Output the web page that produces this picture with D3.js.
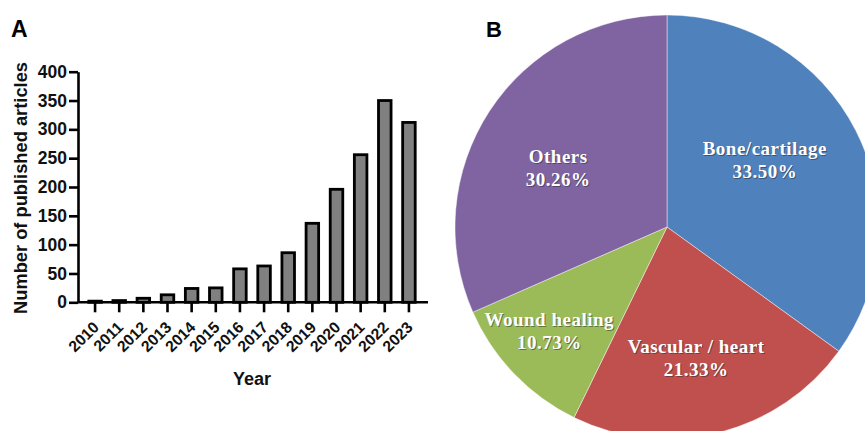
<!DOCTYPE html>
<html>
<head>
<meta charset="utf-8">
<script src="https://cdn.jsdelivr.net/npm/d3@7"></script>
<style>
  html, body { margin: 0; padding: 0; background: #fff; }
  svg { display: block; }
</style>
</head>
<body>
<svg id="chart" width="865" height="431"></svg>
<script>
// ---- Data ----
const years = ["2010","2011","2012","2013","2014","2015","2016","2017","2018","2019","2020","2021","2022","2023"];
const articleCounts = [2, 3, 7, 13, 24, 25, 58, 63, 86, 137, 196, 256, 350, 312];
const yTickValues = [0, 50, 100, 150, 200, 250, 300, 350, 400];

const fieldNames = ["Bone/cartilage", "Vascular / heart", "Wound healing", "Others"];
const fieldShares = [33.50, 21.33, 10.73, 30.26];
const fieldColors = ["#4f81bd", "#c0504d", "#9bbb59", "#8064a2"];

// ---- Setup ----
const svg = d3.select("#chart");
const sans = "'Liberation Sans', Arial, Helvetica, sans-serif";
const serif = "'Liberation Serif', 'Times New Roman', serif";

// ===== Panel A: bar chart =====
const axisX0 = 78, axisX1 = 428;
const y = d3.scaleLinear().domain([0, 400]).range([302.3, 71.7]);
const x = d3.scaleBand().domain(years).range([83, 421]).paddingInner(0.48).paddingOuter(0.24);

const gA = svg.append("g");

// bars
gA.selectAll("rect.bar")
  .data(articleCounts)
  .enter().append("rect")
  .attr("class", "bar")
  .attr("x", (d, i) => x(years[i]))
  .attr("width", x.bandwidth())
  .attr("y", d => y(d))
  .attr("height", d => y(0) - y(d))
  .attr("fill", "#808080")
  .attr("stroke", "#000")
  .attr("stroke-width", 2.8);

// y axis
const yAxis = d3.axisLeft(y).tickValues(yTickValues).tickSize(9).tickSizeOuter(0).tickPadding(2);
const gy = gA.append("g").attr("transform", `translate(${axisX0},0)`).call(yAxis);
gy.select(".domain").attr("stroke", "#000").attr("stroke-width", 2.6);
gy.selectAll(".tick line").attr("stroke", "#000").attr("stroke-width", 2.6);
gy.selectAll(".tick text")
  .attr("font-family", sans).attr("font-weight", "bold").attr("font-size", 17.5)
  .attr("fill", "#111");

// x axis
const xAxis = d3.axisBottom(x).tickSize(10).tickSizeOuter(0);
const gx = gA.append("g").attr("transform", `translate(0,${y(0)})`).call(xAxis);
gx.select(".domain").remove();
gA.append("line")
  .attr("x1", axisX0).attr("x2", axisX1)
  .attr("y1", y(0)).attr("y2", y(0))
  .attr("stroke", "#000").attr("stroke-width", 2.6);
gx.selectAll(".tick line").attr("stroke", "#000").attr("stroke-width", 2.6);
gx.selectAll(".tick text")
  .attr("font-family", sans).attr("font-weight", "bold").attr("font-size", 15.8)
  .attr("fill", "#111")
  .attr("text-anchor", "end")
  .attr("dy", "0.35em")
  .attr("y", 0)
  .attr("transform", "translate(1,22) rotate(-45)");

// axis titles
gA.append("text")
  .attr("transform", "translate(27,188) rotate(-90)")
  .attr("text-anchor", "middle")
  .attr("font-family", sans).attr("font-weight", "bold").attr("font-size", 18.3)
  .attr("fill", "#111")
  .text("Number of published articles");

gA.append("text")
  .attr("x", 252).attr("y", 385)
  .attr("text-anchor", "middle")
  .attr("font-family", sans).attr("font-weight", "bold").attr("font-size", 18)
  .attr("fill", "#111")
  .text("Year");

// panel letter
gA.append("text")
  .attr("x", 11).attr("y", 37)
  .attr("font-family", sans).attr("font-weight", "bold").attr("font-size", 23)
  .attr("fill", "#000")
  .text("A");

// ===== Panel B: pie chart =====
const cx = 667, cy = 227, R = 212;
const gB = svg.append("g").attr("transform", `translate(${cx},${cy})`);

const pie = d3.pie().sort(null).startAngle(0).endAngle(2 * Math.PI);
const arcs = pie(fieldShares);
const arc = d3.arc().innerRadius(0).outerRadius(R);
const labelArc = d3.arc().innerRadius(130).outerRadius(130);

gB.selectAll("path.slice")
  .data(arcs)
  .enter().append("path")
  .attr("class", "slice")
  .attr("d", arc)
  .attr("fill", (d, i) => fieldColors[i])
  .attr("stroke", "rgba(255,255,255,0.55)")
  .attr("stroke-width", 0.8);

// label nudges (layout only)
const nudges = [[-18, -10], [-2.5, 2.6], [-24, 12], [0, 10]];

arcs.forEach((a, i) => {
  const c = labelArc.centroid(a);
  const lx = c[0] + nudges[i][0];
  const ly = c[1] + nudges[i][1];
  const lines = [fieldNames[i], fieldShares[i].toFixed(2) + "%"];
  const offsets = [-3, 20];
  [["#2a2a2a", 1, 1, 0.5], ["#ffffff", 0, 0, 1]].forEach(([col, ox, oy, op]) => {
    lines.forEach((t, k) => {
      gB.append("text")
        .attr("x", lx + ox).attr("y", ly + offsets[k] + oy)
        .attr("text-anchor", "middle")
        .attr("font-family", serif).attr("font-weight", "bold").attr("font-size", 19)
        .attr("letter-spacing", 0.5)
        .attr("fill", col).attr("fill-opacity", op)
        .text(t);
    });
  });
});

svg.append("text")
  .attr("x", 486).attr("y", 37)
  .attr("font-family", sans).attr("font-weight", "bold").attr("font-size", 22)
  .attr("fill", "#000")
  .text("B");
</script>
</body>
</html>
